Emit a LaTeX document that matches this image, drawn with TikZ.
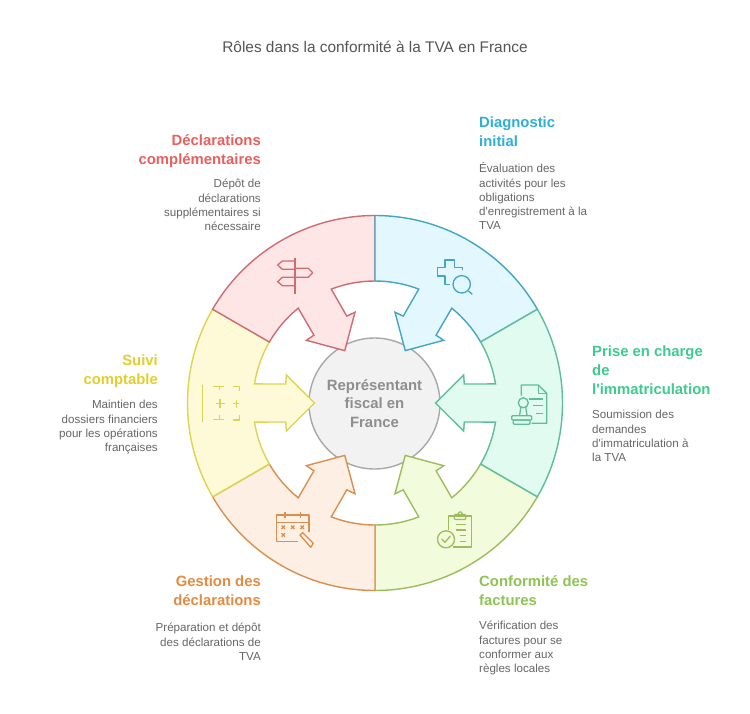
\documentclass[tikz,border=0pt]{standalone}
\usepackage{fontspec}
\newfontfamily\lsans{Liberation Sans}
\definecolor{bluefill}{HTML}{E3F7FE}\definecolor{bluestroke}{HTML}{43A5C4}\definecolor{bluetext}{HTML}{2FAFD8}
\definecolor{greenfill}{HTML}{E2FBF1}\definecolor{greenstroke}{HTML}{5DBE98}\definecolor{greentext}{HTML}{3DCB90}
\definecolor{limefill}{HTML}{F2FBDC}\definecolor{limestroke}{HTML}{9DBD5C}\definecolor{limetext}{HTML}{8FC354}
\definecolor{orangefill}{HTML}{FDEFE3}\definecolor{orangestroke}{HTML}{D9904F}\definecolor{orangetext}{HTML}{E38B42}
\definecolor{yellowfill}{HTML}{FEF9D6}\definecolor{yellowstroke}{HTML}{DBD550}\definecolor{yellowtext}{HTML}{E2CE2D}
\definecolor{redfill}{HTML}{FFE6E6}\definecolor{redstroke}{HTML}{CF6C72}\definecolor{redtext}{HTML}{EC5F5F}
\definecolor{hubfill}{HTML}{F2F2F2}\definecolor{hubstroke}{HTML}{A8A8A8}\definecolor{hubtext}{HTML}{8E8E8E}
\definecolor{bodytext}{HTML}{666666}\definecolor{titletext}{HTML}{555555}
\newcommand{\fl}[1]{\rule{0pt}{1em}#1}
\tikzset{
  headl/.style={anchor=north west,inner sep=0pt,align=left,font=\lsans\fontsize{14.85}{18.7}\selectfont\bfseries},
  headr/.style={anchor=north east,inner sep=0pt,align=right,font=\lsans\fontsize{14.85}{18.7}\selectfont\bfseries},
  bodyl/.style={anchor=north west,inner sep=0pt,align=left,text=bodytext,font=\lsans\fontsize{11.6}{14.2}\selectfont},
  bodyr/.style={anchor=north east,inner sep=0pt,align=right,text=bodytext,font=\lsans\fontsize{11.6}{14.2}\selectfont},
  icon/.style={line width=1.3pt,line join=round},
}
\newcommand{\sector}[3]{%
  \pgfmathsetmacro{\am}{#1}
  \draw[fill=#2,draw=#3,line width=1.4pt,line join=miter]
    ({\am+30}:187.5) arc[start angle={\am+30},end angle={\am-30},radius=187.5pt]
    -- ({\am-30}:122) arc[start angle={\am-30},end angle={\am-9},radius=122pt]
    -- ({\am-12}:91.3) -- ({\am-17.6}:93) -- (\am:60.5) -- ({\am+17.6}:93) -- ({\am+12}:91.3)
    -- ({\am+9}:122) arc[start angle={\am+9},end angle={\am+30},radius=122pt] -- cycle;}
\begin{document}
\begin{tikzpicture}[x=1pt,y=-1pt]
\useasboundingbox[fill=white] (0,0) rectangle (750,713);
\node[circle,draw=hubstroke,fill=hubfill,line width=1.4pt,minimum size=131pt,inner sep=0pt,align=center,text=hubtext,font=\lsans\fontsize{14.9}{18.7}\selectfont\bfseries] (hub) at (374.5,403.5) {Représentant\\fiscal en\\France};
\begin{scope}[shift={(375,403)},y=1pt]
\sector{-60}{limefill}{limestroke}
\sector{-120}{orangefill}{orangestroke}
\sector{180}{yellowfill}{yellowstroke}
\sector{120}{redfill}{redstroke}
\sector{60}{bluefill}{bluestroke}
\sector{0}{greenfill}{greenstroke}
\end{scope}
\node[text=titletext,font=\lsans\fontsize{15.4}{18}\selectfont] (title) at (375,47) {Rôles dans la conformité à la TVA en France};
% headings and descriptions
\node[headl,text=bluetext] (h1) at (479,112.6) {\fl{Diagnostic}\\initial};
\node[bodyl] (b1) at (479,161) {\fl{Évaluation des}\\activités pour les\\obligations\\d'enregistrement à la\\TVA};
\node[headl,text=greentext] (h2) at (592,341.6) {\fl{Prise en charge}\\de\\l'immatriculation};
\node[bodyl] (b2) at (592,407) {\fl{Soumission des}\\demandes\\d'immatriculation à\\la TVA};
\node[headl,text=limetext] (h3) at (479,571.6) {\fl{Conformité des}\\factures};
\node[bodyl] (b3) at (479,618) {\fl{Vérification des}\\factures pour se\\conformer aux\\règles locales};
\node[headr,text=orangetext] (h4) at (261,571.6) {\fl{Gestion des}\\déclarations};
\node[bodyr] (b4) at (261,620) {\fl{Préparation et dépôt}\\des déclarations de\\TVA};
\node[headr,text=yellowtext] (h5) at (158,350.6) {\fl{Suivi}\\comptable};
\node[bodyr] (b5) at (158,397) {\fl{Maintien des}\\dossiers financiers\\pour les opérations\\françaises};
\node[headr,text=redtext] (h6) at (261,130.6) {\fl{Déclarations}\\complémentaires};
\node[bodyr] (b6) at (261,176) {\fl{Dépôt de}\\déclarations\\supplémentaires si\\nécessaire};
% icon: blue
\begin{scope}[icon,draw=bluestroke]
\draw (462.3,270) -- (462.3,267.7) -- (454.3,267.7) -- (454.3,260) -- (445,260) -- (445,267.7) -- (437.3,267.7) -- (437.3,276) -- (445,276) -- (445,284.3) -- (450,284.3);
\draw (461.7,284.3) circle[radius=8.7pt];
\draw (468.5,291) -- (472.3,294.3);
\end{scope}
% icon: green
\begin{scope}[icon,draw=greenstroke]
\draw (521.3,395.7) -- (521.3,385) -- (538.3,385) -- (546.7,393.3) -- (546.7,423.3) -- (531.7,423.3);
\draw (538.3,385) -- (538.3,393.3) -- (546.7,393.3);
\draw (529.3,399) -- (543.3,399) (533.3,405.7) -- (543.3,405.7) (536,413.3) -- (543.3,413.3);
\draw (523.3,402.8) circle[radius=5pt];
\draw (520.8,407.2) -- (520.3,411) -- (519.5,415.7) (525.8,407.2) -- (526.3,411) -- (527.1,415.7);
\draw[rounded corners=1pt] (511.7,415.7) rectangle (531.7,420);
\draw[rounded corners=1pt] (513.3,420) rectangle (530,424.3);
\end{scope}
% icon: lime
\begin{scope}[icon,draw=limestroke]
\draw (448.3,530) -- (448.3,516) -- (471.7,516) -- (471.7,547) -- (453.3,547);
\draw[rounded corners=1pt] (454.3,519.5) rectangle (465.7,514.5);
\draw (457.5,514.5) -- (459.5,512) -- (461,512) -- (463,514.5);
\draw (455.5,524.3) -- (466,524.3) (455.5,530) -- (466,530) (460,535.7) -- (466,535.7) (460,541.7) -- (466,541.7);
\draw (446,539.3) circle[radius=8.5pt];
\draw (441.7,539) -- (445,542.3) -- (450.3,536);
\end{scope}
% icon: orange
\begin{scope}[icon,draw=orangestroke]
\draw (298,541.7) -- (276.7,541.7) -- (276.7,515) -- (309,515) -- (309,531.7);
\draw (276.7,522.7) -- (309,522.7);
\draw (285,512) -- (285,518) (300.7,512) -- (300.7,518);
\draw (281.5,525.5) -- (285,529) (281.5,529) -- (285,525.5);
\draw (291,525.5) -- (294.5,529) (291,529) -- (294.5,525.5);
\draw (300.5,525.5) -- (304,529) (300.5,529) -- (304,525.5);
\draw (281.5,533.2) -- (285,536.7) (281.5,536.7) -- (285,533.2);
\draw (300,535) -- (302.7,532.7) -- (313.3,543.3) -- (310.7,547.3) -- cycle;
\end{scope}
% icon: yellow
\begin{scope}[icon,draw=yellowstroke]
\draw (202.7,385) -- (202.7,421.7);
\draw (213.3,386.7) -- (224.3,386.7) (219.3,386.7) -- (219.3,390);
\draw (232.7,386.7) -- (239.3,386.7) -- (239.3,391);
\draw (215.5,403.3) -- (224.5,403.3) (220,399) -- (220,407.5);
\draw (232.7,403.3) -- (239.3,403.3) (236.7,400) -- (236.7,407.5);
\draw (213.3,419.5) -- (224.3,419.5) (219.3,415) -- (219.3,419.5);
\draw (232.7,420) -- (239.3,420) -- (239.3,415);
\end{scope}
% icon: red
\begin{scope}[icon,draw=redstroke]
\draw (295,258.3) -- (295,294);
\draw (295,261) -- (282.3,261) -- (277.7,265) -- (282.3,269.3) -- (295,269.3);
\draw (295,277.3) -- (282.3,277.3) -- (277.7,281.7) -- (282.3,285.7) -- (295,285.7);
\draw (295,268.3) -- (308.3,268.3) -- (312.7,272.7) -- (308.3,277.3) -- (295,277.3);
\end{scope}
\end{tikzpicture}
\end{document}
